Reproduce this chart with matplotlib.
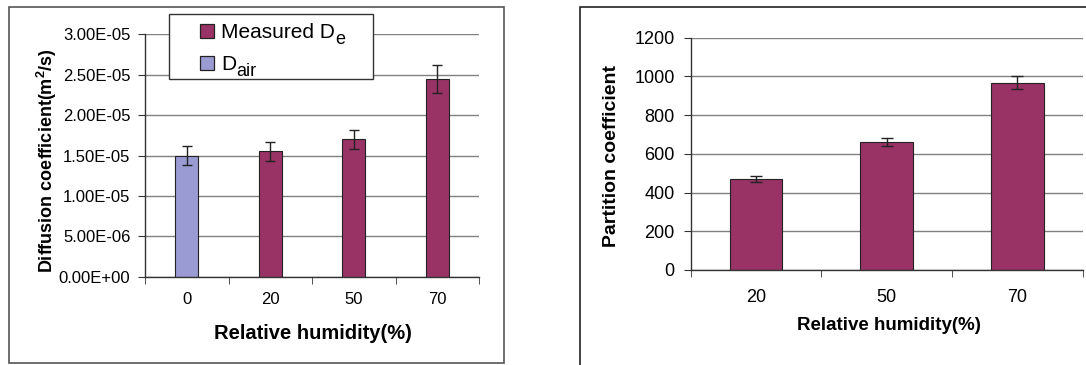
import matplotlib
matplotlib.use("Agg")
import matplotlib.pyplot as plt
from matplotlib.patches import Rectangle
import numpy as np

plt.rcParams['font.family'] = ['Liberation Sans', 'DejaVu Sans']
plt.rcParams['mathtext.fontset'] = 'custom'
plt.rcParams['mathtext.rm'] = 'Liberation Sans'
plt.rcParams['mathtext.it'] = 'Liberation Sans'
plt.rcParams['mathtext.bf'] = 'Liberation Sans:bold'

# Left chart data
rh_left = ["0", "20", "50", "70"]
diff_values = [1.50e-5, 1.55e-5, 1.70e-5, 2.45e-5]
diff_errors = [1.15e-6, 1.15e-6, 1.15e-6, 1.75e-6]
diff_series = ["air", "measured", "measured", "measured"]
diff_yticks = [0, 5e-6, 1e-5, 1.5e-5, 2e-5, 2.5e-5, 3e-5]
diff_yticklabels = ["0.00E+00", "5.00E-06", "1.00E-05", "1.50E-05",
                    "2.00E-05", "2.50E-05", "3.00E-05"]
legend_main = ["Measured D", "D"]
legend_sub = ["e", "air"]

# Right chart data
rh_right = ["20", "50", "70"]
part_values = [470, 660, 968]
part_errors = [14, 21, 34]
part_yticks = [0, 200, 400, 600, 800, 1000, 1200]

maroon = "#993366"
lavender = "#9B9BD3"
grid_c = "#808080"
edge_c = "#222222"

W, H = 1086, 365
fig = plt.figure(figsize=(W / 100, H / 100), dpi=100)

def fx(px):
    return px / W

def fy(py):
    return 1 - py / H

# outer frames
fig.patches.append(Rectangle((fx(9), fy(363)), fx(504) - fx(9), fy(7) - fy(363),
                             transform=fig.transFigure, fill=False,
                             edgecolor="#555555", linewidth=1.2, zorder=0))
fig.patches.append(Rectangle((fx(580), fy(380)), fx(1200) - fx(580), fy(7) - fy(380),
                             transform=fig.transFigure, fill=False,
                             edgecolor="#222222", linewidth=1.2, zorder=0,
                             clip_on=False))

def style_axes(ax, n, xpad, ypad):
    for s in ["top", "right"]:
        ax.spines[s].set_visible(False)
    for s in ["left", "bottom"]:
        ax.spines[s].set_color("#333333")
        ax.spines[s].set_linewidth(1.0)
    ax.set_xlim(-0.5, n - 0.5)
    ax.set_xticks(np.arange(n))
    ax.tick_params(axis="x", length=0, pad=xpad)
    ax.set_xticks(np.arange(-0.5, n, 1.0), minor=True)
    ax.tick_params(axis="x", which="minor", length=5, direction="out", color="#333333")
    ax.tick_params(axis="y", length=5, direction="out", color="#333333", pad=ypad)
    ax.yaxis.grid(True, color=grid_c, linewidth=1.0)
    ax.set_axisbelow(True)

# Left axes
axL = fig.add_axes([fx(145), fy(276.7), fx(479) - fx(145), fy(34.3) - fy(276.7)])
xl = np.arange(len(rh_left))
colors = [lavender if s == "air" else maroon for s in diff_series]
axL.bar(xl, diff_values, width=0.28, color=colors, edgecolor=edge_c, linewidth=0.8,
        yerr=diff_errors, capsize=3.8, error_kw=dict(ecolor=edge_c, elinewidth=1.0, capthick=1.0))
style_axes(axL, len(rh_left), xpad=11, ypad=5.5)
axL.set_ylim(0, 3e-5)
axL.set_yticks(diff_yticks)
axL.set_yticklabels(diff_yticklabels, fontsize=12)
axL.set_xticklabels(rh_left, fontsize=12)
axL.set_xlabel("Relative humidity(%)", fontsize=14.5, fontweight="bold", va="center")
axL.xaxis.set_label_coords(0.503, -0.236)
axL.set_ylabel("Diffusion coefficient(m$^{\\mathbf{2}}$/s)", fontsize=13, fontweight="bold", va="center")
axL.yaxis.set_label_coords(-0.293, 0.477)

# Legend (drawn as a boxed key in the figure)
fig.patches.append(Rectangle((fx(169), fy(79)), fx(373) - fx(169), fy(14) - fy(79),
                             transform=fig.transFigure, facecolor="white",
                             edgecolor="#333333", linewidth=1.0, zorder=5))
key_colors = [maroon, lavender]
key_rows = [31, 63]
renderer = fig.canvas.get_renderer()
for c, yc, main, sub in zip(key_colors, key_rows, legend_main, legend_sub):
    fig.patches.append(Rectangle((fx(200), fy(yc + 7)), fx(214) - fx(200), fy(yc - 7) - fy(yc + 7),
                                 transform=fig.transFigure, facecolor=c,
                                 edgecolor=edge_c, linewidth=0.9, zorder=6))
    base = yc + 7.5
    t = fig.text(fx(221), fy(base), main, fontsize=15, va="baseline", ha="left", zorder=7)
    bb = t.get_window_extent(renderer=renderer)
    fig.text(bb.x1 / W + fx(0.5), fy(base + 5), sub, fontsize=13, va="baseline", ha="left", zorder=7)

# Right axes
axR = fig.add_axes([fx(690.7), fy(270), fx(1082.7) - fx(690.7), fy(37.7) - fy(270)])
xr = np.arange(len(rh_right))
axR.bar(xr, part_values, width=0.405, color=maroon, edgecolor=edge_c, linewidth=0.8,
        yerr=part_errors, capsize=4.5, error_kw=dict(ecolor=edge_c, elinewidth=1.0, capthick=1.0))
style_axes(axR, len(rh_right), xpad=14, ypad=6.5)
axR.set_ylim(0, 1200)
axR.set_yticks(part_yticks)
axR.set_yticklabels([str(v) for v in part_yticks], fontsize=13)
axR.set_xticklabels(rh_right, fontsize=13)
axR.set_xlabel("Relative humidity(%)", fontsize=13.5, fontweight="bold", va="center")
axR.xaxis.set_label_coords(0.5046, -0.241)
axR.set_ylabel("Partition coefficient", fontsize=14, fontweight="bold", va="center")
axR.yaxis.set_label_coords(-0.2008, 0.491)

fig.savefig("out.png", dpi=100)
